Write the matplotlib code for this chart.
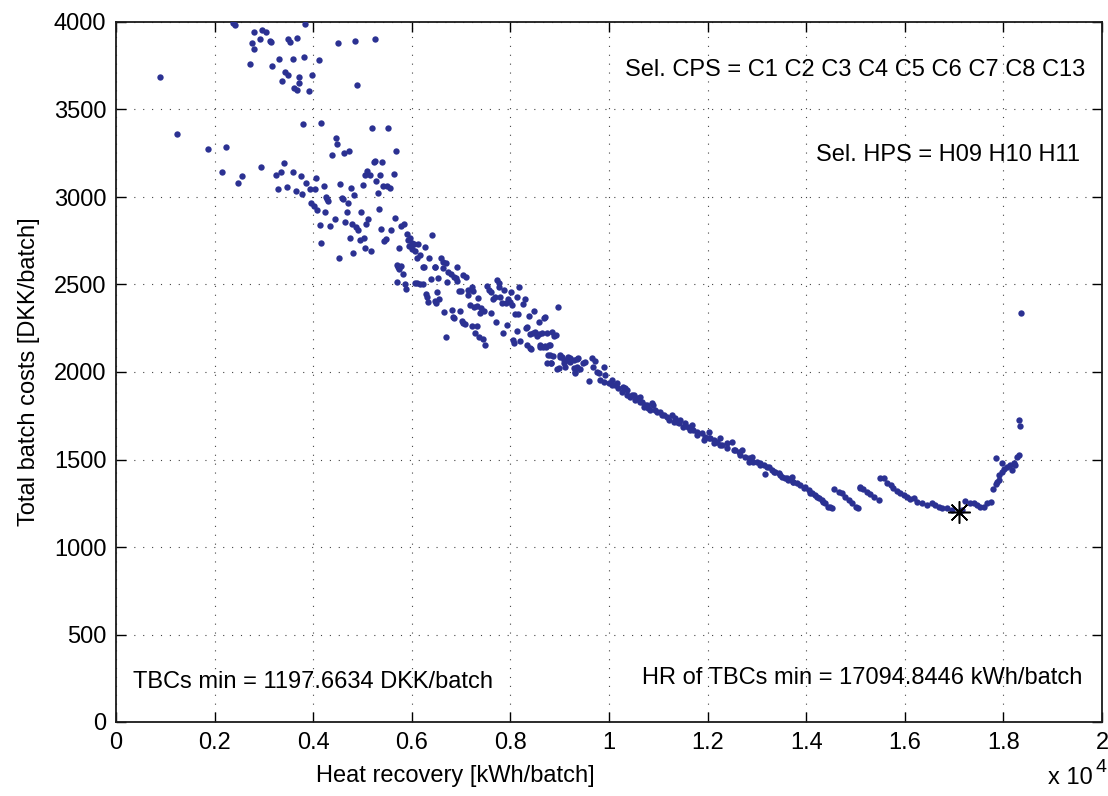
import numpy as np
import matplotlib
matplotlib.use("Agg")
import matplotlib.pyplot as plt

# ---------------- data (heat recovery in 10^4 kWh/batch, TBC in DKK/batch) -------------
hr_upper = [0.089, 0.237, 0.242, 0.384, 0.279, 0.296, 0.304, 0.292, 0.3125, 0.315, 0.276, 0.280,
            0.349, 0.352, 0.367, 0.450, 0.484, 0.526, 0.272, 0.317, 0.330, 0.359, 0.382, 0.411,
            0.342, 0.348, 0.336, 0.372, 0.398, 0.371, 0.362, 0.368, 0.392, 0.488]
tbc_upper = [3687, 3996, 3983, 3988, 3945, 3954, 3943, 3901, 3893, 3884, 3878, 3848,
             3901, 3885, 3910, 3878, 3891, 3901, 3760, 3750, 3788, 3787, 3800, 3783,
             3714, 3697, 3665, 3685, 3697, 3650, 3623, 3611, 3607, 3638]

hr_mid = [0.124, 0.186, 0.224, 0.216, 0.256, 0.248, 0.294, 0.340, 0.334, 0.325, 0.379, 0.416,
          0.360, 0.376, 0.386, 0.328, 0.346, 0.365, 0.378, 0.394, 0.404, 0.406, 0.421, 0.446,
          0.448, 0.438, 0.463, 0.472, 0.520, 0.552, 0.567, 0.523, 0.526, 0.540, 0.510, 0.505,
          0.515, 0.536, 0.563, 0.455, 0.476, 0.501, 0.528, 0.542, 0.549, 0.555, 0.532, 0.425,
          0.428, 0.430, 0.396, 0.402, 0.408, 0.423, 0.459, 0.461, 0.470, 0.482, 0.497, 0.468,
          0.534, 0.444, 0.413, 0.434, 0.465, 0.479, 0.487, 0.491, 0.508, 0.512, 0.538, 0.557,
          0.565, 0.578, 0.584, 0.474, 0.495, 0.503, 0.415, 0.544, 0.548, 0.506, 0.518, 0.480,
          0.452, 0.574, 0.590, 0.597, 0.592, 0.600, 0.605, 0.613, 0.595, 0.600, 0.607, 0.617,
          0.626, 0.641, 0.610, 0.635]
tbc_mid = [3358, 3272, 3287, 3143, 3120, 3082, 3173, 3194, 3143, 3124, 3417, 3421,
           3143, 3122, 3078, 3044, 3057, 3032, 3015, 3046, 3046, 3107, 3063, 3335,
           3301, 3242, 3250, 3263, 3394, 3396, 3263, 3200, 3206, 3202, 3147, 3128,
           3128, 3125, 3131, 3074, 3053, 3066, 3090, 3065, 3061, 3053, 3025, 3000,
           2987, 2975, 2966, 2947, 2926, 2914, 2996, 2987, 2964, 3010, 2912, 2912,
           2931, 2874, 2840, 2834, 2855, 2847, 2829, 2811, 2844, 2876, 2819, 2811,
           2882, 2834, 2846, 2766, 2754, 2767, 2737, 2747, 2758, 2710, 2691, 2681,
           2653, 2710, 2789, 2764, 2754, 2735, 2729, 2729, 2722, 2701, 2690, 2668,
           2712, 2781, 2650, 2650]

hr_lower = [0.659, 0.663, 0.669, 0.691, 0.664, 0.674, 0.680, 0.685, 0.689, 0.703, 0.710, 0.672,
            0.691, 0.696, 0.699, 0.714, 0.722, 0.724, 0.715, 0.734, 0.753, 0.757, 0.760, 0.772,
            0.776, 0.777, 0.769, 0.764, 0.779, 0.787, 0.801, 0.818, 0.782, 0.791, 0.803, 0.800,
            0.796, 0.813, 0.830, 0.825, 0.896, 0.718, 0.727, 0.732, 0.741, 0.746, 0.739, 0.761,
            0.666, 0.682, 0.697, 0.684, 0.686, 0.701, 0.703, 0.707, 0.723, 0.733, 0.728, 0.736,
            0.744, 0.748, 0.670, 0.770, 0.784, 0.793, 0.809, 0.816, 0.837, 0.848, 0.858, 0.869,
            0.871, 0.814, 0.831, 0.833, 0.840, 0.845, 0.850, 0.854, 0.857, 0.864, 0.874, 0.885,
            0.889, 0.892, 0.806, 0.820, 0.808, 0.834, 0.840, 0.842, 0.860, 0.867, 0.872, 0.881,
            0.877, 0.882, 0.894, 0.901, 0.909, 0.916, 0.921, 0.928, 0.935, 0.931, 0.938,
            0.569, 0.573, 0.578, 0.575, 0.582, 0.569, 0.586, 0.588, 0.607, 0.611, 0.617, 0.622,
            0.622, 0.625, 0.647, 0.648, 0.638, 0.654, 0.628, 0.631, 0.632, 0.647, 0.650, 0.656,
            0.652,
            0.860, 0.871, 0.879, 0.875, 0.882, 0.881, 0.887, 0.900, 0.904, 0.898, 0.908, 0.911,
            0.915, 0.921, 0.935, 0.928, 0.942, 0.931]
tbc_lower = [2650, 2630, 2624, 2602, 2592, 2573, 2560, 2545, 2535, 2556, 2545, 2516,
             2522, 2465, 2463, 2469, 2484, 2463, 2442, 2421, 2491, 2469, 2455, 2526,
             2507, 2488, 2430, 2419, 2427, 2469, 2455, 2488, 2396, 2392, 2383, 2402,
             2415, 2427, 2415, 2388, 2373, 2383, 2370, 2377, 2364, 2349, 2335, 2339,
             2341, 2354, 2350, 2316, 2307, 2293, 2282, 2273, 2265, 2265, 2225, 2199,
             2187, 2153, 2202, 2286, 2225, 2267, 2331, 2331, 2322, 2350, 2284, 2307,
             2313, 2234, 2251, 2259, 2215, 2225, 2230, 2206, 2217, 2221, 2221, 2228,
             2206, 2210, 2183, 2179, 2167, 2154, 2135, 2129, 2141, 2145, 2141, 2153,
             2097, 2050, 2017, 2088, 2068, 2088, 2059, 2068, 2030, 1998, 2078,
             2611, 2598, 2606, 2587, 2560, 2513, 2501, 2476, 2510, 2506, 2503, 2503,
             2602, 2602, 2598, 2602, 2533, 2535, 2444, 2430, 2398, 2404, 2392, 2417,
             2459,
             2154, 2148, 2154, 2050, 2050, 2097, 2091, 2097, 2088, 2021, 2050, 2030,
             2068, 2078, 2073, 2021, 2015, 1992]

hr_band = [0.948, 0.952, 0.965, 0.972, 0.968, 0.975, 0.979, 0.989, 0.992, 0.960, 0.982, 0.989,
           0.999, 1.006, 1.016, 1.019, 1.026, 1.033, 1.036, 1.043, 1.050, 1.056, 1.063, 1.067,
           1.073, 1.080, 1.087, 1.094, 1.104, 1.111, 1.117, 1.128, 1.134, 1.138, 1.144, 1.155,
           1.161, 1.168, 1.171, 1.178, 1.188, 1.195, 1.202, 1.205, 1.212, 1.219, 1.226, 1.229,
           1.239, 1.249, 1.256, 1.263, 1.270, 1.276, 1.283, 1.290, 1.300, 1.307, 1.317, 1.314,
           1.324, 1.331, 1.337, 1.344, 1.351, 1.358, 1.364, 1.371, 1.374, 1.381, 1.388, 1.398,
           1.405, 1.412, 1.418, 1.425, 1.432, 1.439, 1.445, 1.452,
           1.006, 1.013, 1.029, 1.036, 1.046, 1.053, 1.063, 1.070, 1.077, 1.084, 1.090, 1.097,
           1.107, 1.121, 1.131, 1.141, 1.151, 1.165, 1.178, 1.192, 1.202, 1.212, 1.226, 1.239,
           1.253, 1.266, 1.283, 1.293, 1.307, 1.320, 1.334, 1.347, 1.361, 1.374, 1.395, 1.408,
           1.422, 1.435, 1.449]
tbc_band = [2053, 2059, 2078, 2065, 2030, 2002, 1993, 2027, 1983, 1950, 1954, 1945,
            1935, 1926, 1935, 1907, 1888, 1907, 1869, 1859, 1869, 1850, 1859, 1830,
            1811, 1792, 1821, 1783, 1773, 1754, 1745, 1754, 1735, 1716, 1726, 1707,
            1688, 1697, 1669, 1659, 1650, 1630, 1659, 1621, 1611, 1602, 1621, 1583,
            1592, 1602, 1554, 1545, 1554, 1516, 1507, 1516, 1487, 1478, 1417, 1468,
            1459, 1440, 1430, 1421, 1402, 1392, 1383, 1402, 1373, 1364, 1354, 1345,
            1326, 1307, 1297, 1278, 1269, 1250, 1230, 1221,
            1954, 1926, 1916, 1897, 1869, 1840, 1830, 1802, 1811, 1783, 1811, 1773,
            1754, 1726, 1716, 1707, 1688, 1669, 1640, 1611, 1621, 1592, 1583, 1564,
            1554, 1526, 1487, 1487, 1468, 1459, 1430, 1411, 1392, 1373, 1335, 1307,
            1288, 1259, 1230]

hr_tail = [1.456, 1.466, 1.473, 1.479, 1.486, 1.493, 1.500, 1.506, 1.510,
           1.510, 1.516, 1.523, 1.530, 1.537, 1.547,
           1.550, 1.557, 1.563, 1.571, 1.577, 1.584, 1.591, 1.598, 1.604, 1.611, 1.618, 1.625,
           1.635, 1.645, 1.655, 1.662, 1.669, 1.676, 1.686, 1.696, 1.709, 1.716,
           1.723, 1.733, 1.740, 1.747, 1.753, 1.760, 1.767, 1.774,
           1.779, 1.784, 1.787, 1.792, 1.791, 1.797, 1.801, 1.807, 1.814, 1.818, 1.821, 1.824,
           1.828, 1.831, 1.784, 1.798, 1.832, 1.834, 1.836]
tbc_tail = [1330, 1316, 1307, 1288, 1269, 1250, 1230, 1221, 1335,
            1345, 1330, 1316, 1303, 1288, 1269,
            1396, 1393, 1364, 1354, 1335, 1320, 1307, 1297, 1284, 1273, 1278, 1259,
            1250, 1240, 1250, 1240, 1230, 1221, 1221, 1211, 1202, 1211,
            1264, 1250, 1253, 1240, 1227, 1230, 1250, 1259,
            1331, 1358, 1373, 1383, 1411, 1430, 1444, 1459, 1468, 1440, 1478, 1468,
            1516, 1526, 1510, 1482, 1726, 1691, 2335]

hr_min = 17094.8446
tbc_min = 1197.6634

cps_label = "Sel. CPS = C1 C2 C3 C4 C5 C6 C7 C8 C13"
hps_label = "Sel. HPS = H09 H10 H11"
xticks = [0, 0.2, 0.4, 0.6, 0.8, 1.0, 1.2, 1.4, 1.6, 1.8, 2.0]
xtick_labels = ["0", "0.2", "0.4", "0.6", "0.8", "1", "1.2", "1.4", "1.6", "1.8", "2"]
yticks = [0, 500, 1000, 1500, 2000, 2500, 3000, 3500, 4000]

plt.rcParams["font.family"] = ["Liberation Sans", "DejaVu Sans"]
FS = 17

fig = plt.figure(figsize=(11.08, 7.96), dpi=100)
ax = fig.add_axes([116 / 1108, 74 / 796, 986 / 1108, 700 / 796])

dot_color = "#2b3192"
for xs, ys in [(hr_upper, tbc_upper), (hr_mid, tbc_mid), (hr_lower, tbc_lower),
               (hr_band, tbc_band), (hr_tail, tbc_tail)]:
    ax.scatter(np.asarray(xs), np.asarray(ys), s=21, color=dot_color, linewidths=0,
               zorder=3, clip_on=True)

ax.plot([hr_min / 1e4], [tbc_min], marker=(8, 2, 0), markersize=16, color="black",
        mew=1.1, linestyle="none", zorder=5)

ax.set_xlim(0, 2.0)
ax.set_ylim(0, 4000)
ax.set_xticks(xticks)
ax.set_xticklabels(xtick_labels)
ax.set_yticks(yticks)
ax.tick_params(direction="in", length=7, width=1, top=True, right=True,
               labelsize=FS, pad=7)
for sp in ax.spines.values():
    sp.set_linewidth(1.3)
    sp.set_color("#1a1a1a")

ax.grid(True, color="#444444", linewidth=0.8, linestyle=(0, (1, 7)))
ax.set_axisbelow(True)

ax.set_xlabel("Heat recovery [kWh/batch]", fontsize=FS)
ax.xaxis.set_label_coords((455 - 116) / 986, -0.062, transform=ax.transAxes)
ax.set_ylabel("Total batch costs [DKK/batch]", fontsize=FS, labelpad=10)

fig.text(1093 / 1108, 1 - 778 / 796, "x 10", fontsize=FS, ha="right", va="center")
fig.text(1095 / 1108, 1 - 768 / 796, "4", fontsize=14, ha="left", va="center")

ax.text(1.966, 3726, cps_label, fontsize=FS, ha="right", va="center")
ax.text(1.956, 3240, hps_label, fontsize=FS, ha="right", va="center")
ax.text(0.0345, 229, "TBCs min = %.4f DKK/batch" % tbc_min, fontsize=FS, ha="left", va="center")
ax.text(1.960, 251, "HR of TBCs min = %.4f kWh/batch" % hr_min, fontsize=FS, ha="right",
        va="center")

fig.savefig("out.png", dpi=100)
